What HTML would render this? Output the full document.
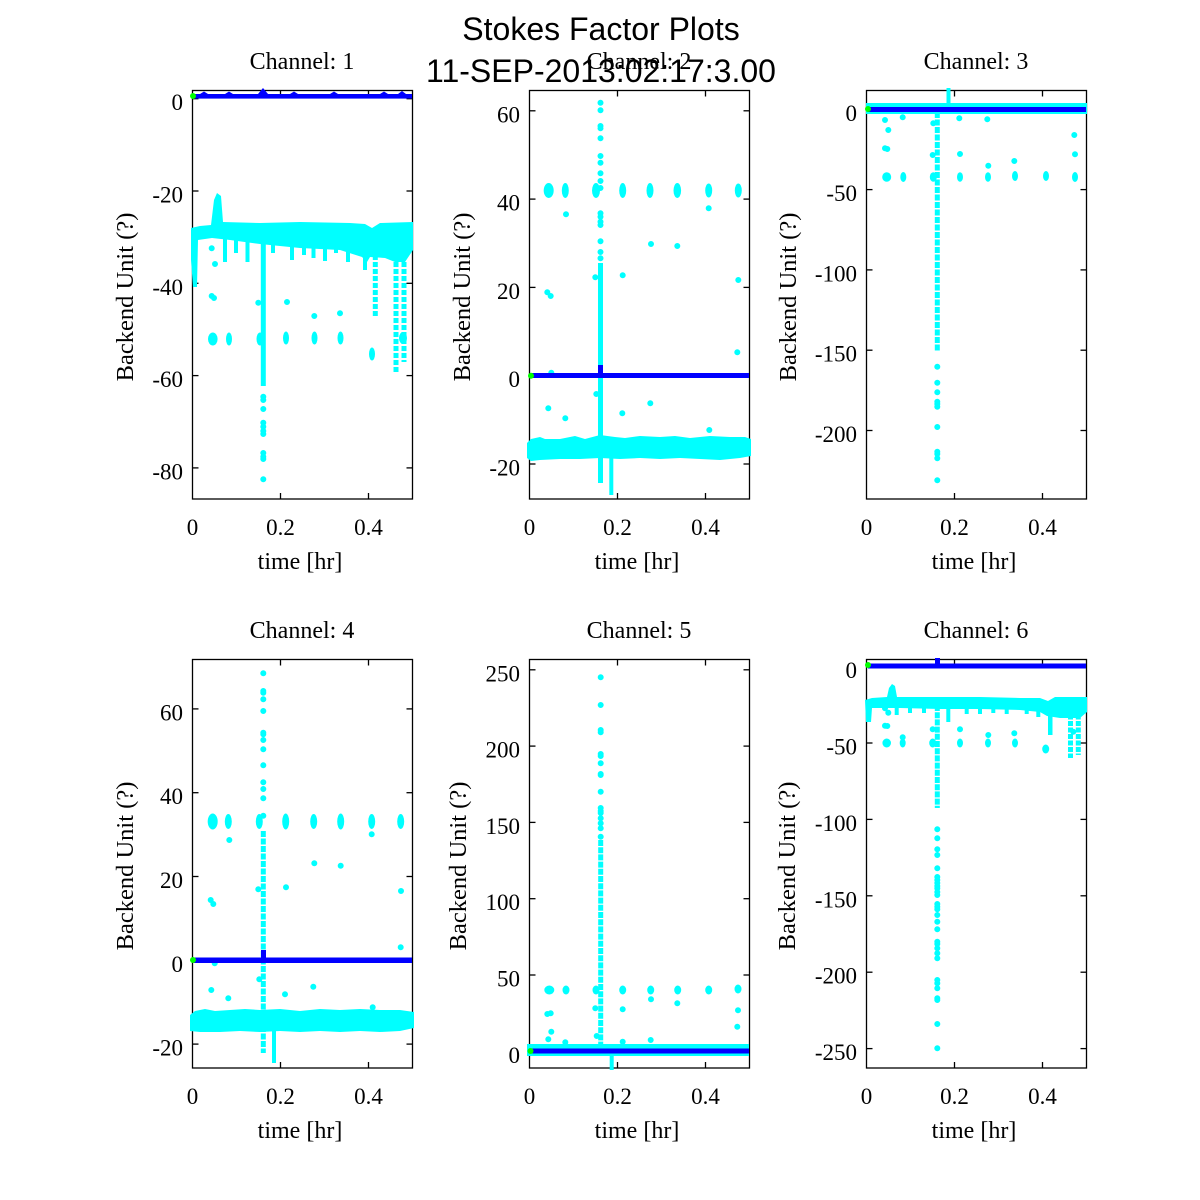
<!DOCTYPE html>
<html><head><meta charset="utf-8"><style>
html,body{margin:0;padding:0;background:#fff;}
svg{display:block;}
.t{font-family:"Liberation Serif",serif;font-size:23px;fill:#000;}
.l{font-family:"Liberation Serif",serif;font-size:24.5px;fill:#000;}
.h{font-family:"Liberation Serif",serif;font-size:24px;fill:#000;}
.s{font-family:"Liberation Sans",sans-serif;font-size:32px;fill:#000;}
.fr{fill:none;stroke:#000;stroke-width:1.3;}
.tk{stroke:#000;stroke-width:1.3;}
.cy{fill:#00ffff;}
.bl{fill:#0000ff;}
.dc{stroke:#00ffff;stroke-width:6;stroke-linecap:round;fill:none;}
.lc{stroke:#00ffff;stroke-width:5;fill:none;}
.gd{fill:#00ff00;}
</style></head><body>
<svg width="1200" height="1200" viewBox="0 0 1200 1200" xmlns="http://www.w3.org/2000/svg">
<rect width="1200" height="1200" fill="#fff"/>

<!-- ============ PANEL 1 ============ -->
<text class="h" x="302" y="69" text-anchor="middle">Channel: 1</text>
<rect class="fr" x="192.5" y="90.5" width="220" height="408.5"/>
<g class="tk">
<line x1="192.5" y1="98.7" x2="198.5" y2="98.7"/><line x1="406.5" y1="98.7" x2="412.5" y2="98.7"/>
<line x1="192.5" y1="191" x2="198.5" y2="191"/><line x1="406.5" y1="191" x2="412.5" y2="191"/>
<line x1="192.5" y1="283.3" x2="198.5" y2="283.3"/><line x1="406.5" y1="283.3" x2="412.5" y2="283.3"/>
<line x1="192.5" y1="375.6" x2="198.5" y2="375.6"/><line x1="406.5" y1="375.6" x2="412.5" y2="375.6"/>
<line x1="192.5" y1="467.9" x2="198.5" y2="467.9"/><line x1="406.5" y1="467.9" x2="412.5" y2="467.9"/>
<line x1="280.5" y1="499" x2="280.5" y2="493"/><line x1="368.5" y1="499" x2="368.5" y2="493"/>
<line x1="280.5" y1="90.5" x2="280.5" y2="96.5"/><line x1="368.5" y1="90.5" x2="368.5" y2="96.5"/>
</g>
<g class="t" text-anchor="end">
<text x="183" y="110">0</text><text x="183" y="202.5">-20</text><text x="183" y="295">-40</text><text x="183" y="387">-60</text><text x="183" y="479.5">-80</text>
</g>
<g class="t" text-anchor="middle">
<text x="192.5" y="535">0</text><text x="280.5" y="535">0.2</text><text x="368.5" y="535">0.4</text>
</g>
<text class="h" x="300" y="569" text-anchor="middle">time [hr]</text>
<text class="l" transform="translate(133,297) rotate(-90)" text-anchor="middle">Backend Unit (?)</text>
<polygon class="cy" points="191,228 200,226 211,225 214,200 217,193 221,196 223,222 260,223 300,222 350,223 365,224 372,228 380,223 413,222 413,250 405,262 395,262 385,258 370,257 367,262 362,257 340,250 300,248 260,244 230,240 212,238 198,240 197,287 193,287 191,260"/>
<g class="cy">
<rect x="223" y="235" width="4" height="27"/><rect x="234" y="235" width="4" height="18"/><rect x="245.5" y="235" width="4" height="27"/>
<rect x="271" y="235" width="4" height="18"/><rect x="290" y="235" width="4" height="25"/><rect x="302" y="235" width="4" height="20"/>
<rect x="311.5" y="235" width="4" height="23"/><rect x="323" y="235" width="4" height="26"/><rect x="334" y="235" width="4" height="18"/>
<rect x="346" y="235" width="4" height="27"/><rect x="363" y="240" width="4" height="30"/>
<ellipse cx="212.8" cy="339" rx="4.8" ry="6.5"/><ellipse cx="229" cy="339" rx="3" ry="6.5"/><ellipse cx="260" cy="339" rx="3.5" ry="6.5"/>
<ellipse cx="286" cy="338" rx="3" ry="6.5"/><ellipse cx="314.5" cy="338" rx="3" ry="6.5"/><ellipse cx="340.5" cy="338" rx="3" ry="6.5"/>
<ellipse cx="372" cy="354" rx="3" ry="6.5"/><ellipse cx="403" cy="338" rx="4" ry="6"/>
</g>
<line class="lc" x1="263.3" y1="238" x2="263.3" y2="386"/>
<line class="lc" x1="375.3" y1="255" x2="375.3" y2="317" stroke-dasharray="5 2"/>
<line class="lc" x1="396" y1="255" x2="396" y2="372" stroke-dasharray="5 2"/>
<line class="lc" x1="404" y1="255" x2="404" y2="362" stroke-dasharray="5 2"/>
<path class="dc" d="M263.3 396.7h0M263.3 400h0M263.3 409h0M263.3 422.7h0M263.3 426.7h0M263.3 431h0M263.3 434h0M263.3 453h0M263.3 456.7h0M263.3 459h0M263.3 479.3h0M211.7 248.3h0M215 264h0M211.7 296h0M214 298h0M287 302h0M314.3 316h0M340 313.3h0M258.3 302.7h0"/>
<rect class="bl" x="193" y="94" width="219" height="4.6"/>
<path class="bl" d="M200 94l4-2.5l4 2.5zM225 94l4-2.5l4 2.5zM258 94l5-6l5 6zM290 94l4-2.5l4 2.5zM330 94l4-2.5l4 2.5zM380 94l4-2.5l4 2.5zM398 94l4-3l4 3z"/>
<circle class="gd" cx="193" cy="96" r="3"/>

<!-- ============ PANEL 2 ============ -->
<text class="h" x="639" y="69" text-anchor="middle">Channel: 2</text>
<rect class="fr" x="529.5" y="90.5" width="220" height="408.5"/>
<g class="tk">
<line x1="529.5" y1="110.8" x2="535.5" y2="110.8"/><line x1="743.5" y1="110.8" x2="749.5" y2="110.8"/>
<line x1="529.5" y1="199.1" x2="535.5" y2="199.1"/><line x1="743.5" y1="199.1" x2="749.5" y2="199.1"/>
<line x1="529.5" y1="287.4" x2="535.5" y2="287.4"/><line x1="743.5" y1="287.4" x2="749.5" y2="287.4"/>
<line x1="529.5" y1="375.7" x2="535.5" y2="375.7"/><line x1="743.5" y1="375.7" x2="749.5" y2="375.7"/>
<line x1="529.5" y1="464" x2="535.5" y2="464"/><line x1="743.5" y1="464" x2="749.5" y2="464"/>
<line x1="617.5" y1="499" x2="617.5" y2="493"/><line x1="705.5" y1="499" x2="705.5" y2="493"/>
<line x1="617.5" y1="90.5" x2="617.5" y2="96.5"/><line x1="705.5" y1="90.5" x2="705.5" y2="96.5"/>
</g>
<g class="t" text-anchor="end">
<text x="520" y="122.3">60</text><text x="520" y="210.6">40</text><text x="520" y="298.9">20</text><text x="520" y="387.2">0</text><text x="520" y="475.5">-20</text>
</g>
<g class="t" text-anchor="middle">
<text x="529.5" y="535">0</text><text x="617.5" y="535">0.2</text><text x="705.5" y="535">0.4</text>
</g>
<text class="h" x="637" y="569" text-anchor="middle">time [hr]</text>
<text class="l" transform="translate(470,297) rotate(-90)" text-anchor="middle">Backend Unit (?)</text>
<g class="cy">
<polygon points="527,443 531,439 540,437 545,439 560,439 575,436 585,439 600,435 615,437 625,438 640,436 660,437 675,436 690,438 710,436 730,437 745,437 751,439 751,456 740,458 720,460 700,459 680,458 660,459 640,458 620,459 600,458 580,459 560,459 540,460 531,461 527,458"/>
<rect x="609.3" y="440" width="4" height="55"/>
<ellipse cx="548.7" cy="190.5" rx="5" ry="7.5"/><ellipse cx="565.3" cy="190.5" rx="3.5" ry="7.5"/><ellipse cx="596" cy="190.5" rx="4" ry="7.5"/>
<ellipse cx="622.7" cy="190.5" rx="3.5" ry="7.5"/><ellipse cx="650" cy="190.5" rx="3.5" ry="7.5"/><ellipse cx="677.3" cy="190.5" rx="3.8" ry="7.5"/>
<ellipse cx="708.7" cy="190.5" rx="3.5" ry="7"/><ellipse cx="738.3" cy="190.5" rx="3.5" ry="7"/>
</g>
<line class="lc" x1="600.5" y1="263" x2="600.5" y2="483"/>
<path class="dc" d="M600.5 102.7h0M600.5 110.3h0M600.5 126h0M600.5 128.3h0M600.5 138.3h0M600.5 156h0M600.5 162.7h0M600.5 173.3h0M600.5 181h0M600.5 188h0M600.5 213.3h0M600.5 216.7h0M600.5 221.7h0M600.5 225h0M600.5 241.3h0M600.5 252h0M600.5 258.3h0M547.3 292.3h0M550.7 296h0M566 214.3h0M595.3 277.3h0M622.7 275.3h0M651 244h0M677.3 246h0M708.7 208.3h0M738.3 280h0M737.3 352.3h0M548.3 408.3h0M565.3 418.3h0M596.3 394h0M622.3 413.3h0M650.3 403.3h0M709.3 430h0M551.3 372.7h0"/>
<rect class="bl" x="530" y="373" width="219" height="5"/>
<rect class="bl" x="598" y="365" width="5" height="10"/>
<circle class="gd" cx="531" cy="375.7" r="3"/>

<!-- ============ PANEL 3 ============ -->
<text class="h" x="976" y="69" text-anchor="middle">Channel: 3</text>
<rect class="fr" x="866.5" y="90.5" width="220" height="408.5"/>
<g class="tk">
<line x1="866.5" y1="109.3" x2="872.5" y2="109.3"/><line x1="1080.5" y1="109.3" x2="1086.5" y2="109.3"/>
<line x1="866.5" y1="189.6" x2="872.5" y2="189.6"/><line x1="1080.5" y1="189.6" x2="1086.5" y2="189.6"/>
<line x1="866.5" y1="269.9" x2="872.5" y2="269.9"/><line x1="1080.5" y1="269.9" x2="1086.5" y2="269.9"/>
<line x1="866.5" y1="350.2" x2="872.5" y2="350.2"/><line x1="1080.5" y1="350.2" x2="1086.5" y2="350.2"/>
<line x1="866.5" y1="430.5" x2="872.5" y2="430.5"/><line x1="1080.5" y1="430.5" x2="1086.5" y2="430.5"/>
<line x1="954.5" y1="499" x2="954.5" y2="493"/><line x1="1042.5" y1="499" x2="1042.5" y2="493"/>
<line x1="954.5" y1="90.5" x2="954.5" y2="96.5"/><line x1="1042.5" y1="90.5" x2="1042.5" y2="96.5"/>
</g>
<g class="t" text-anchor="end">
<text x="857" y="120.8">0</text><text x="857" y="201.1">-50</text><text x="857" y="281.4">-100</text><text x="857" y="361.7">-150</text><text x="857" y="442">-200</text>
</g>
<g class="t" text-anchor="middle">
<text x="866.5" y="535">0</text><text x="954.5" y="535">0.2</text><text x="1042.5" y="535">0.4</text>
</g>
<text class="h" x="974" y="569" text-anchor="middle">time [hr]</text>
<text class="l" transform="translate(796,297) rotate(-90)" text-anchor="middle">Backend Unit (?)</text>
<g class="cy">
<rect x="866" y="103" width="221" height="11"/>
<rect x="946.5" y="88" width="4" height="16"/>
<ellipse cx="886.7" cy="177" rx="4.5" ry="4.8"/><ellipse cx="903.3" cy="177" rx="3" ry="5"/><ellipse cx="933.3" cy="177" rx="3.5" ry="4.8"/>
<ellipse cx="960" cy="177" rx="3" ry="4.8"/><ellipse cx="988" cy="177" rx="3" ry="4.8"/><ellipse cx="1015" cy="176" rx="3" ry="5"/>
<ellipse cx="1046" cy="176" rx="3" ry="5"/><ellipse cx="1075" cy="177" rx="3" ry="5"/>
</g>
<line class="lc" x1="937.3" y1="112" x2="937.3" y2="352" stroke-dasharray="6 1.5"/>
<path class="dc" d="M937.3 366.7h0M937.3 382.7h0M937.3 392.3h0M937.3 401.7h0M937.3 404h0M937.3 406.7h0M937.3 427h0M937.3 451.7h0M937.3 454h0M937.3 458.3h0M937.3 480.3h0M885 120h0M888.3 130h0M885 148.3h0M887.3 149h0M902.7 117.3h0M932.7 155h0M933.3 123.3h0M959.3 118.3h0M960 154h0M987.3 119.3h0M988.3 165.7h0M1014.3 161h0M1074.3 135h0M1075 154.3h0"/>
<rect class="bl" x="868" y="107" width="218" height="5"/>
<circle class="gd" cx="868" cy="109" r="3"/>

<!-- ============ PANEL 4 ============ -->
<text class="h" x="302" y="638" text-anchor="middle">Channel: 4</text>
<rect class="fr" x="192.5" y="659.5" width="220" height="408.5"/>
<g class="tk">
<line x1="192.5" y1="708.9" x2="198.5" y2="708.9"/><line x1="406.5" y1="708.9" x2="412.5" y2="708.9"/>
<line x1="192.5" y1="792.7" x2="198.5" y2="792.7"/><line x1="406.5" y1="792.7" x2="412.5" y2="792.7"/>
<line x1="192.5" y1="876.5" x2="198.5" y2="876.5"/><line x1="406.5" y1="876.5" x2="412.5" y2="876.5"/>
<line x1="192.5" y1="960.3" x2="198.5" y2="960.3"/><line x1="406.5" y1="960.3" x2="412.5" y2="960.3"/>
<line x1="192.5" y1="1044.1" x2="198.5" y2="1044.1"/><line x1="406.5" y1="1044.1" x2="412.5" y2="1044.1"/>
<line x1="280.5" y1="1068" x2="280.5" y2="1062"/><line x1="368.5" y1="1068" x2="368.5" y2="1062"/>
<line x1="280.5" y1="659.5" x2="280.5" y2="665.5"/><line x1="368.5" y1="659.5" x2="368.5" y2="665.5"/>
</g>
<g class="t" text-anchor="end">
<text x="183" y="720.4">60</text><text x="183" y="804.2">40</text><text x="183" y="888">20</text><text x="183" y="971.8">0</text><text x="183" y="1055.6">-20</text>
</g>
<g class="t" text-anchor="middle">
<text x="192.5" y="1104">0</text><text x="280.5" y="1104">0.2</text><text x="368.5" y="1104">0.4</text>
</g>
<text class="h" x="300" y="1138" text-anchor="middle">time [hr]</text>
<text class="l" transform="translate(133,866) rotate(-90)" text-anchor="middle">Backend Unit (?)</text>
<g class="cy">
<polygon points="190,1015 195,1011 205,1009 215,1011 230,1010 245,1009 260,1010 280,1009 300,1011 320,1009 340,1010 360,1009 380,1010 400,1010 414,1012 414,1028 400,1031 380,1032 360,1031 340,1032 320,1031 300,1032 280,1031 260,1032 240,1031 220,1032 200,1032 190,1031"/>
<rect x="272" y="1015" width="4" height="48"/>
<ellipse cx="212.7" cy="821.5" rx="5" ry="8"/><ellipse cx="228.3" cy="821.5" rx="3.5" ry="7.5"/><ellipse cx="259.3" cy="821.5" rx="3.5" ry="7.5"/>
<ellipse cx="285.7" cy="821.5" rx="3.5" ry="8"/><ellipse cx="313.7" cy="821.5" rx="3.5" ry="7.5"/><ellipse cx="340.7" cy="821.5" rx="3.5" ry="8"/>
<ellipse cx="371.7" cy="821.5" rx="3.5" ry="7.5"/><ellipse cx="400.7" cy="821.5" rx="3.5" ry="7.5"/>
</g>
<line class="lc" x1="263.3" y1="831" x2="263.3" y2="1053" stroke-dasharray="6 1.5"/>
<path class="dc" d="M263.3 673.3h0M263.3 691h0M263.3 692.7h0M263.3 699.3h0M263.3 711h0M263.3 732.7h0M263.3 734.3h0M263.3 740h0M263.3 749.3h0M263.3 765.3h0M263.3 782.3h0M263.3 789h0M263.3 798.3h0M263.3 815.7h0M229.3 840h0M286 887.3h0M314.3 863.3h0M340.7 865.7h0M371.7 834.3h0M401 891h0M210.7 900h0M213.3 904h0M258.3 889.3h0M400.7 947.3h0M214.7 963.3h0M211.3 990h0M228.3 998.3h0M259.3 979.3h0M285 994.3h0M313.3 986.7h0M372.7 1007.3h0"/>
<rect class="bl" x="193" y="957.5" width="219" height="5.5"/>
<rect class="bl" x="261" y="950" width="5" height="10"/>
<circle class="gd" cx="193" cy="960" r="3"/>

<!-- ============ PANEL 5 ============ -->
<text class="h" x="639" y="638" text-anchor="middle">Channel: 5</text>
<rect class="fr" x="529.5" y="659.5" width="220" height="408.5"/>
<g class="tk">
<line x1="529.5" y1="669.8" x2="535.5" y2="669.8"/><line x1="743.5" y1="669.8" x2="749.5" y2="669.8"/>
<line x1="529.5" y1="746.1" x2="535.5" y2="746.1"/><line x1="743.5" y1="746.1" x2="749.5" y2="746.1"/>
<line x1="529.5" y1="822.4" x2="535.5" y2="822.4"/><line x1="743.5" y1="822.4" x2="749.5" y2="822.4"/>
<line x1="529.5" y1="898.7" x2="535.5" y2="898.7"/><line x1="743.5" y1="898.7" x2="749.5" y2="898.7"/>
<line x1="529.5" y1="975" x2="535.5" y2="975"/><line x1="743.5" y1="975" x2="749.5" y2="975"/>
<line x1="529.5" y1="1051.3" x2="535.5" y2="1051.3"/><line x1="743.5" y1="1051.3" x2="749.5" y2="1051.3"/>
<line x1="617.5" y1="1068" x2="617.5" y2="1062"/><line x1="705.5" y1="1068" x2="705.5" y2="1062"/>
<line x1="617.5" y1="659.5" x2="617.5" y2="665.5"/><line x1="705.5" y1="659.5" x2="705.5" y2="665.5"/>
</g>
<g class="t" text-anchor="end">
<text x="520" y="681.3">250</text><text x="520" y="757.6">200</text><text x="520" y="833.9">150</text><text x="520" y="910.2">100</text><text x="520" y="986.5">50</text><text x="520" y="1062.8">0</text>
</g>
<g class="t" text-anchor="middle">
<text x="529.5" y="1104">0</text><text x="617.5" y="1104">0.2</text><text x="705.5" y="1104">0.4</text>
</g>
<text class="h" x="637" y="1138" text-anchor="middle">time [hr]</text>
<text class="l" transform="translate(466,866) rotate(-90)" text-anchor="middle">Backend Unit (?)</text>
<g class="cy">
<rect x="527" y="1044" width="222" height="12"/>
<rect x="609.7" y="1054" width="4" height="16"/>
<ellipse cx="549.3" cy="990" rx="5" ry="4.5"/><ellipse cx="566" cy="990" rx="3.5" ry="4.5"/><ellipse cx="596" cy="990" rx="3.5" ry="4.5"/>
<ellipse cx="622.7" cy="990" rx="3.5" ry="4.5"/><ellipse cx="650.7" cy="990" rx="3.5" ry="4.5"/><ellipse cx="677.7" cy="990" rx="3.5" ry="4.5"/>
<ellipse cx="708.7" cy="990" rx="3.5" ry="4.5"/><ellipse cx="738" cy="989" rx="3.5" ry="4.5"/>
</g>
<line class="lc" x1="600.7" y1="840" x2="600.7" y2="1045" stroke-dasharray="6 1.2"/>
<path class="dc" d="M600.7 677.3h0M600.7 705h0M600.7 730h0M600.7 732.3h0M600.7 754h0M600.7 756h0M600.7 763.3h0M600.7 774h0M600.7 775h0M600.7 791.7h0M600.7 808h0M600.7 811h0M600.7 813h0M600.7 818.3h0M600.7 823.3h0M600.7 828.3h0M600.7 836.7h0M547.3 1014h0M550.7 1013.3h0M551.3 1031.7h0M548.3 1039.3h0M565.3 1042.3h0M595.3 1008.3h0M596.7 1036h0M622.7 1009.3h0M622.7 1041.7h0M651 999.3h0M650.7 1040h0M677.3 1003.3h0M738 1010.3h0M737.3 1026.7h0"/>
<rect class="bl" x="530" y="1048.5" width="219" height="5"/>
<circle class="gd" cx="530.5" cy="1051" r="3"/>

<!-- ============ PANEL 6 ============ -->
<text class="h" x="976" y="638" text-anchor="middle">Channel: 6</text>
<rect class="fr" x="866.5" y="659.5" width="220" height="408.5"/>
<g class="tk">
<line x1="866.5" y1="666.6" x2="872.5" y2="666.6"/><line x1="1080.5" y1="666.6" x2="1086.5" y2="666.6"/>
<line x1="866.5" y1="743" x2="872.5" y2="743"/><line x1="1080.5" y1="743" x2="1086.5" y2="743"/>
<line x1="866.5" y1="819.4" x2="872.5" y2="819.4"/><line x1="1080.5" y1="819.4" x2="1086.5" y2="819.4"/>
<line x1="866.5" y1="895.8" x2="872.5" y2="895.8"/><line x1="1080.5" y1="895.8" x2="1086.5" y2="895.8"/>
<line x1="866.5" y1="972.2" x2="872.5" y2="972.2"/><line x1="1080.5" y1="972.2" x2="1086.5" y2="972.2"/>
<line x1="866.5" y1="1048.6" x2="872.5" y2="1048.6"/><line x1="1080.5" y1="1048.6" x2="1086.5" y2="1048.6"/>
<line x1="954.5" y1="1068" x2="954.5" y2="1062"/><line x1="1042.5" y1="1068" x2="1042.5" y2="1062"/>
<line x1="954.5" y1="659.5" x2="954.5" y2="665.5"/><line x1="1042.5" y1="659.5" x2="1042.5" y2="665.5"/>
</g>
<g class="t" text-anchor="end">
<text x="857" y="678.1">0</text><text x="857" y="754.5">-50</text><text x="857" y="830.9">-100</text><text x="857" y="907.3">-150</text><text x="857" y="983.7">-200</text><text x="857" y="1060.1">-250</text>
</g>
<g class="t" text-anchor="middle">
<text x="866.5" y="1104">0</text><text x="954.5" y="1104">0.2</text><text x="1042.5" y="1104">0.4</text>
</g>
<text class="h" x="974" y="1138" text-anchor="middle">time [hr]</text>
<text class="l" transform="translate(795,866) rotate(-90)" text-anchor="middle">Backend Unit (?)</text>
<g class="cy">
<polygon points="865,700 872,698 887,697 889,688 892,684 895,686 897,697 930,697 980,697 1020,698 1040,698 1048,701 1055,697 1087,697 1087,712 1080,718 1060,718 1047,716 1040,712 1020,710 980,709 940,709 900,708 872,708 871,722 866,722"/>
<rect x="894.7" y="705" width="4" height="10"/><rect x="908" y="705" width="4" height="8"/><rect x="922" y="705" width="4" height="8"/>
<rect x="946.3" y="705" width="4" height="17"/><rect x="964.7" y="705" width="4" height="9"/><rect x="978" y="705" width="4" height="9"/>
<rect x="991.3" y="705" width="4" height="8"/><rect x="1004.7" y="705" width="4" height="9"/><rect x="1024.7" y="705" width="4" height="9"/>
<rect x="1036.3" y="705" width="4" height="12"/><rect x="1048" y="705" width="4.5" height="30"/>
<ellipse cx="886.7" cy="743" rx="4.3" ry="4.5"/><ellipse cx="902.7" cy="743" rx="3" ry="4.5"/><ellipse cx="932.7" cy="743" rx="3.5" ry="4.5"/>
<ellipse cx="960" cy="743" rx="3" ry="4.5"/><ellipse cx="988" cy="743" rx="3" ry="4.5"/><ellipse cx="1015" cy="743" rx="3" ry="4.5"/>
<ellipse cx="1045.7" cy="749" rx="3.5" ry="4.5"/>
</g>
<line class="lc" x1="1070.5" y1="708" x2="1070.5" y2="758" stroke-dasharray="5 1.5"/>
<line class="lc" x1="1078.3" y1="708" x2="1078.3" y2="755" stroke-dasharray="5 1.5"/>
<line class="lc" x1="937.3" y1="705" x2="937.3" y2="808" stroke-dasharray="6 1.2"/>
<path class="dc" d="M937.3 829.3h0M937.3 838.3h0M937.3 849.3h0M937.3 855h0M937.3 868.3h0M937.3 877h0M937.3 880h0M937.3 883h0M937.3 886h0M937.3 888.3h0M937.3 892h0M937.3 895h0M937.3 904h0M937.3 906.7h0M937.3 909.3h0M937.3 915h0M937.3 921.7h0M937.3 929.3h0M937.3 941.7h0M937.3 944h0M937.3 948.3h0M937.3 953.3h0M937.3 958.3h0M937.3 980h0M937.3 983.3h0M937.3 988.3h0M937.3 998.3h0M937.3 1000h0M937.3 1024h0M937.3 1048.3h0M885 708.3h0M888.3 712.7h0M885 725.7h0M887.3 726h0M902.7 737.3h0M932.7 729.3h0M960 729.3h0M988.3 735h0M1014.3 733.3h0M1073.3 731.7h0"/>
<rect class="bl" x="868" y="663.5" width="218" height="5"/>
<rect class="bl" x="935" y="658" width="5" height="8"/>
<circle class="gd" cx="868" cy="665" r="3"/>

<!-- ============ FIGURE TITLE ============ -->
<text class="s" x="601" y="40" text-anchor="middle">Stokes Factor Plots</text>
<text class="s" x="601" y="82" text-anchor="middle">11-SEP-2013:02:17:3.00</text>
</svg>
</body></html>
